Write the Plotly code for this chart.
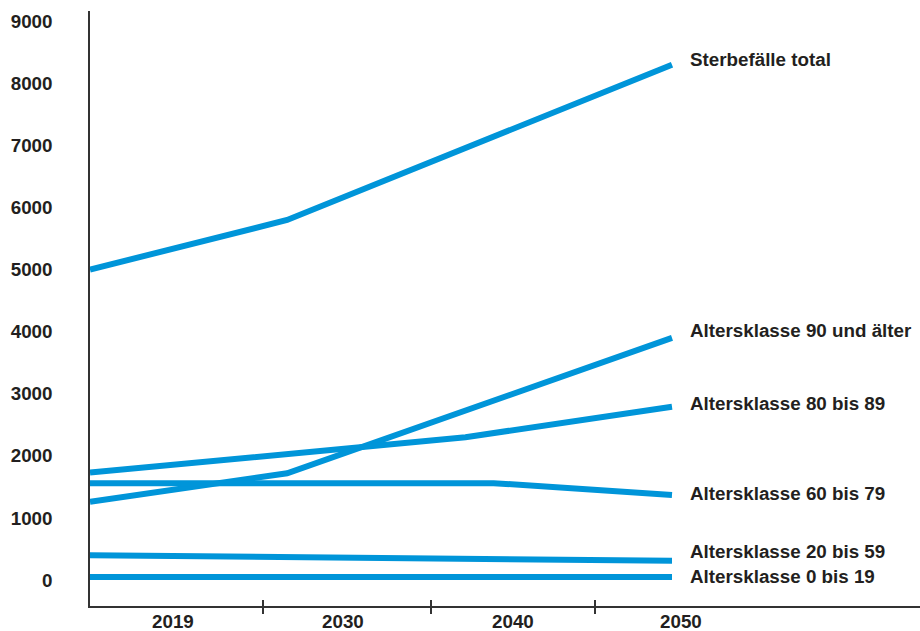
import plotly.graph_objects as go

# Projected deaths per year, total and by age class
series_names = [
    "Sterbefälle total",
    "Altersklasse 90 und älter",
    "Altersklasse 80 bis 89",
    "Altersklasse 60 bis 79",
    "Altersklasse 20 bis 59",
    "Altersklasse 0 bis 19",
]
years_total = [2019, 2029.5, 2050]
deaths_total = [5000, 5800, 8300]
years_90 = [2019, 2029.5, 2050]
deaths_90 = [1260, 1720, 3900]
years_80 = [2019, 2039, 2050]
deaths_80 = [1730, 2300, 2790]
years_60 = [2019, 2040.5, 2050]
deaths_60 = [1560, 1560, 1370]
years_20 = [2019, 2050]
deaths_20 = [400, 310]
years_0 = [2019, 2050]
deaths_0 = [50, 50]

# Axis labelling
year_labels = ["2019", "2030", "2040", "2050"]
year_label_pos = [2023.42, 2032.48, 2041.54, 2050.49]
tick_mark_pos = [2028.22, 2037.17, 2045.90]
y_ticks = list(range(0, 9001, 1000))

# vertical nudges (px) for the end labels
label_shift = [5, 7, 3, 1, 9, 0]

BLUE = "#0095d9"
INK = "#231f20"
AXIS = "#333333"
FONT = "Liberation Sans"
FONT_SIZE = 18.8
TEXT_FONT = dict(family=FONT, size=FONT_SIZE, color=INK, weight="bold")

xs = [years_total, years_90, years_80, years_60, years_20, years_0]
ys = [deaths_total, deaths_90, deaths_80, deaths_60, deaths_20, deaths_0]

fig = go.Figure()
for name, x, y in zip(series_names, xs, ys):
    fig.add_trace(go.Scatter(
        x=x, y=y, mode="lines", name=name,
        line=dict(color=BLUE, width=6),
        showlegend=False, hoverinfo="skip",
    ))

# empty trace that puts the second (tick-only) x axis on the page
fig.add_trace(go.Scatter(x=[], y=[], xaxis="x2", showlegend=False, hoverinfo="skip"))

annotations = []
for name, x, y, dy in zip(series_names, xs, ys, label_shift):
    annotations.append(dict(
        x=x[-1], y=y[-1], xref="x", yref="y", text=name, showarrow=False,
        xanchor="left", yanchor="middle", xshift=16, yshift=dy,
        font=TEXT_FONT,
    ))
for lab, pos in zip(year_labels, year_label_pos):
    annotations.append(dict(
        x=pos, y=0, xref="x", yref="paper", text=lab, showarrow=False,
        xanchor="center", yanchor="middle", yshift=-15,
        font=TEXT_FONT,
    ))

x_range = [2019, 2063.21]
fig.update_layout(
    width=920, height=631,
    margin=dict(l=90, r=0, t=11, b=25),
    paper_bgcolor="white", plot_bgcolor="white",
    font=TEXT_FONT,
    annotations=annotations,
    xaxis=dict(
        range=x_range, showgrid=False, zeroline=False,
        showline=True, linecolor=AXIS, linewidth=1.5,
        tickmode="array", tickvals=tick_mark_pos, ticktext=[""] * len(tick_mark_pos),
        ticks="outside", ticklen=6, tickwidth=1.5, tickcolor=AXIS,
    ),
    xaxis2=dict(
        range=x_range, overlaying="x", side="bottom", showgrid=False, zeroline=False,
        showline=False, showticklabels=False,
        tickmode="array", tickvals=tick_mark_pos,
        ticks="inside", ticklen=6, tickwidth=1.5, tickcolor=AXIS,
    ),
    yaxis=dict(
        range=[-419, 9166], showgrid=False, zeroline=False,
        showline=True, linecolor=AXIS, linewidth=1.5,
        tickmode="array", tickvals=y_ticks, ticks="",
        ticklabelstandoff=32,
        tickfont=TEXT_FONT,
    ),
)

fig.write_html("out.html")
